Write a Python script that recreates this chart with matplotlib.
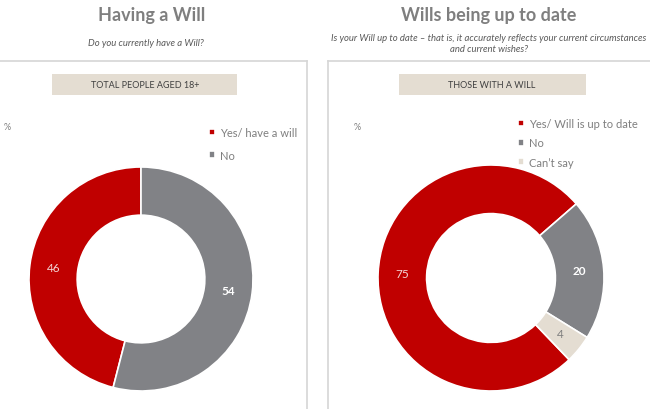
import matplotlib.pyplot as plt
from matplotlib.patches import Rectangle
from matplotlib.lines import Line2D
import numpy as np

# =========================
# DATA
# =========================
left_labels = ["Yes/ have a will", "No"]
left_values = [46, 54]
right_labels = ["Yes/ Will is up to date", "No", "Can\u2019t say"]
right_values = [75, 20, 4]

RED = "#c00000"
GREY = "#818286"
CREAM = "#e4ddd2"

W, H = 650, 410
plt.rcParams["font.family"] = ["Lato", "DejaVu Sans"]


def fx(px):
    return px / W


def fy(py):
    return 1 - py / H


def donut(fig, cx, cy, r, values, colors, startangle, counterclock, label_styles):
    ax = fig.add_axes([fx(cx - r), fy(cy + r), 2 * r / W, 2 * r / H])
    wedges, _ = ax.pie(values, colors=colors, startangle=startangle,
                       counterclock=counterclock, radius=1.0,
                       wedgeprops=dict(width=0.43, edgecolor="white", linewidth=1.2))
    ax.set_xlim(-1, 1)
    ax.set_ylim(-1, 1)
    ax.set_aspect("auto")
    ax.axis("off")
    for w, v, (col, wt) in zip(wedges, values, label_styles):
        ang = np.deg2rad((w.theta1 + w.theta2) / 2)
        ax.text(0.785 * np.cos(ang), 0.785 * np.sin(ang), str(v), ha="center", va="center",
                fontsize=8.5, color=col, fontweight=wt)
    return ax, wedges


fig = plt.figure(figsize=(6.5, 4.1), dpi=100)

# panel borders
border = "#d6d6d6"
fig.add_artist(Line2D([fx(0), fx(307)], [fy(62), fy(62)], color=border, lw=1.2))
fig.add_artist(Line2D([fx(307), fx(307)], [fy(62), fy(410)], color=border, lw=1.2))
fig.add_artist(Line2D([fx(328), fx(650)], [fy(62), fy(62)], color=border, lw=1.2))
fig.add_artist(Line2D([fx(328), fx(328)], [fy(62), fy(410)], color=border, lw=1.2))

# titles
fig.text(fx(152), fy(16), "Having a Will", ha="center", va="center",
         fontsize=13, fontweight="bold", color="#7f7f7f")
fig.text(fx(489), fy(16), "Wills being up to date", ha="center", va="center",
         fontsize=13, fontweight="bold", color="#7f7f7f")
fig.text(fx(146), fy(44), "Do you currently have a Will?", ha="center", va="center",
         fontsize=6.8, style="italic", color="#595959")
fig.text(fx(489), fy(44),
         "Is your Will up to date \u2013 that is, it accurately reflects your current circumstances\nand current wishes?",
         ha="center", va="center", fontsize=6.8, style="italic", color="#595959", linespacing=1.25)

# header boxes
fig.add_artist(Rectangle((fx(52), fy(96)), fx(185), 21 / H, facecolor=CREAM, edgecolor="none"))
fig.text(fx(145), fy(85.5), "TOTAL PEOPLE AGED 18+", ha="center", va="center",
         fontsize=6.5, color="#404040")
fig.add_artist(Rectangle((fx(399), fy(96)), fx(187), 21 / H, facecolor=CREAM, edgecolor="none"))
fig.text(fx(492), fy(85.5), "THOSE WITH A WILL", ha="center", va="center",
         fontsize=6.5, color="#404040")

fig.text(fx(7), fy(127), "%", ha="center", va="center", fontsize=6.5, color="#7f7f7f")
fig.text(fx(357), fy(127), "%", ha="center", va="center", fontsize=6.5, color="#7f7f7f")

# donuts
axl, wl = donut(fig, 141, 280, 112, left_values, [RED, GREY], 90, True,
                [("#f4d6d6", "normal"), ("white", "bold")])
total_r = sum(right_values)
start_r = 41 + 360 * right_values[0] / total_r
axr, wr = donut(fig, 491, 279, 113, right_values, [RED, GREY, CREAM], start_r, False,
                [("#f4d6d6", "normal"), ("white", "bold"), ("#7f7f7f", "normal")])

# legends
leg_kw = dict(loc="upper left", bbox_transform=fig.transFigure, frameon=False,
              handlelength=0.55, handleheight=0.55, handletextpad=0.4,
              fontsize=8, labelcolor="#7f7f7f", borderaxespad=0, borderpad=0)
fig.legend(wl, left_labels, bbox_to_anchor=(fx(209), fy(128)), labelspacing=1.05, **leg_kw)
fig.legend(wr, right_labels, bbox_to_anchor=(fx(518), fy(119)), labelspacing=0.75, **leg_kw)

fig.savefig("out.png", dpi=100)
